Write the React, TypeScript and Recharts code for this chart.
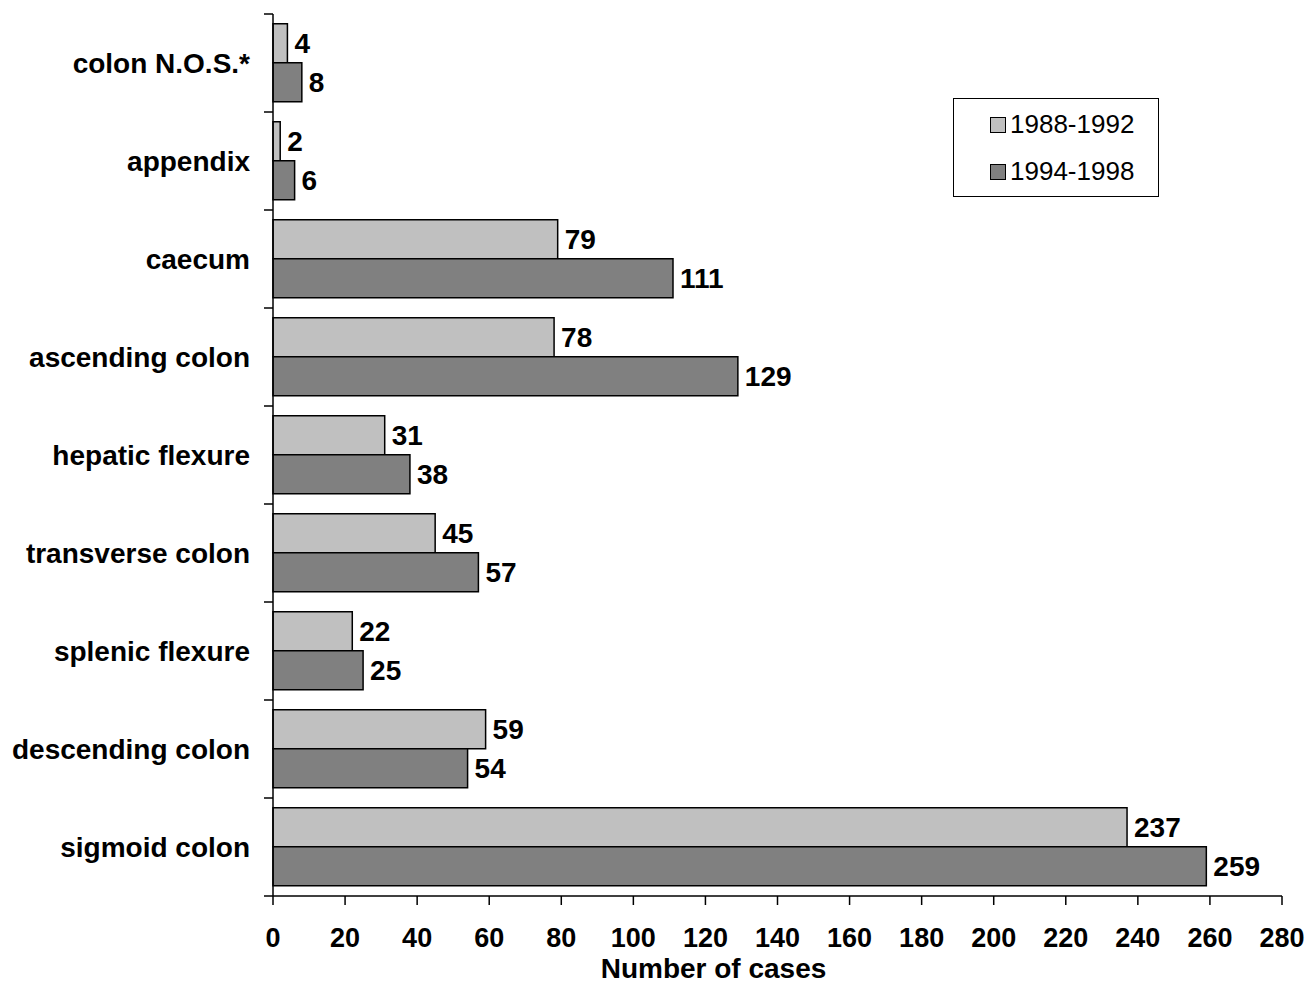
import React from 'react';
import { BarChart, Bar, XAxis, YAxis, LabelList } from 'recharts';

const categories = [
  'colon N.O.S.*',
  'appendix',
  'caecum',
  'ascending colon',
  'hepatic flexure',
  'transverse colon',
  'splenic flexure',
  'descending colon',
  'sigmoid colon',
];
const series1988 = [4, 2, 79, 78, 31, 45, 22, 59, 237];
const series1994 = [8, 6, 111, 129, 38, 57, 25, 54, 259];
const xTicks = [0, 20, 40, 60, 80, 100, 120, 140, 160, 180, 200, 220, 240, 260, 280];
const seriesNames = ['1988-1992', '1994-1998'];
const colors = ['#c0c0c0', '#808080'];

const data = categories.map((c, i) => ({ name: c, a: series1988[i], b: series1994[i] }));

const FONT = '"Liberation Sans", Arial, Helvetica, sans-serif';
const W = 1307;
const H = 987;
const M = { top: 14, right: 25, bottom: 0, left: 0 };
const XH = 91;
const YW = 273;
const BAND = (H - M.top - M.bottom - XH) / categories.length;

const YTick = (props: any) => {
  const { y, payload, index } = props;
  const ax = M.left + YW;
  return (
    <g>
      <line x1={ax - 9} x2={ax} y1={y - BAND / 2} y2={y - BAND / 2} stroke="#000" strokeWidth={1.5} />
      {index === categories.length - 1 && (
        <line x1={ax - 9} x2={ax} y1={y + BAND / 2} y2={y + BAND / 2} stroke="#000" strokeWidth={1.5} />
      )}
      <text
        x={ax - 23}
        y={y}
        textAnchor="end"
        dominantBaseline="central"
        style={{ fontFamily: FONT, fontWeight: 'bold', fontSize: 28, fill: '#000' }}
      >
        {payload.value}
      </text>
    </g>
  );
};

const LegendBox = () => (
  <div
    style={{
      position: 'absolute',
      left: 953,
      top: 98,
      border: '1.5px solid #000',
      background: '#fff',
      width: 206,
      height: 99,
      boxSizing: 'border-box',
      fontFamily: FONT,
      fontSize: 26,
      paddingLeft: 36,
      paddingTop: 2,
    }}
  >
    {seriesNames.map((n, i) => (
      <div key={n} style={{ display: 'flex', alignItems: 'center', height: 47 }}>
        <span
          style={{
            display: 'inline-block',
            width: 14,
            height: 14,
            background: colors[i],
            border: '1.5px solid #000',
            marginRight: 4,
          }}
        />
        <span>{n}</span>
      </div>
    ))}
  </div>
);

const labelStyle = { fontFamily: FONT, fontWeight: 'bold', fontSize: 28, fill: '#000' };

export default function App() {
  return (
    <div style={{ position: 'absolute', left: 0, top: 0, width: W, height: H, background: '#fff' }}>
      <BarChart
        width={W}
        height={H}
        data={data}
        layout="vertical"
        margin={M}
        barCategoryGap="10%"
        barGap={0}
      >
        <XAxis
          type="number"
          domain={[0, 280]}
          ticks={xTicks}
          interval={0}
          height={XH}
          tickSize={9}
          tickMargin={23}
          stroke="#000"
          strokeWidth={1.5}
          tick={{ fill: '#000', fontFamily: FONT, fontWeight: 'bold', fontSize: 27 }}
          label={{
            value: 'Number of cases',
            position: 'insideBottom',
            offset: 9,
            dx: -64,
            style: labelStyle,
          }}
        />
        <YAxis
          type="category"
          dataKey="name"
          width={YW}
          interval={0}
          tickLine={false}
          stroke="#000"
          strokeWidth={1.5}
          tick={<YTick />}
        />
        <Bar dataKey="a" name={seriesNames[0]} fill={colors[0]} stroke="#000" strokeWidth={1.5} isAnimationActive={false}>
          <LabelList dataKey="a" position="right" offset={7} style={labelStyle} />
        </Bar>
        <Bar dataKey="b" name={seriesNames[1]} fill={colors[1]} stroke="#000" strokeWidth={1.5} isAnimationActive={false}>
          <LabelList dataKey="b" position="right" offset={7} style={labelStyle} />
        </Bar>
      </BarChart>
      <LegendBox />
    </div>
  );
}
